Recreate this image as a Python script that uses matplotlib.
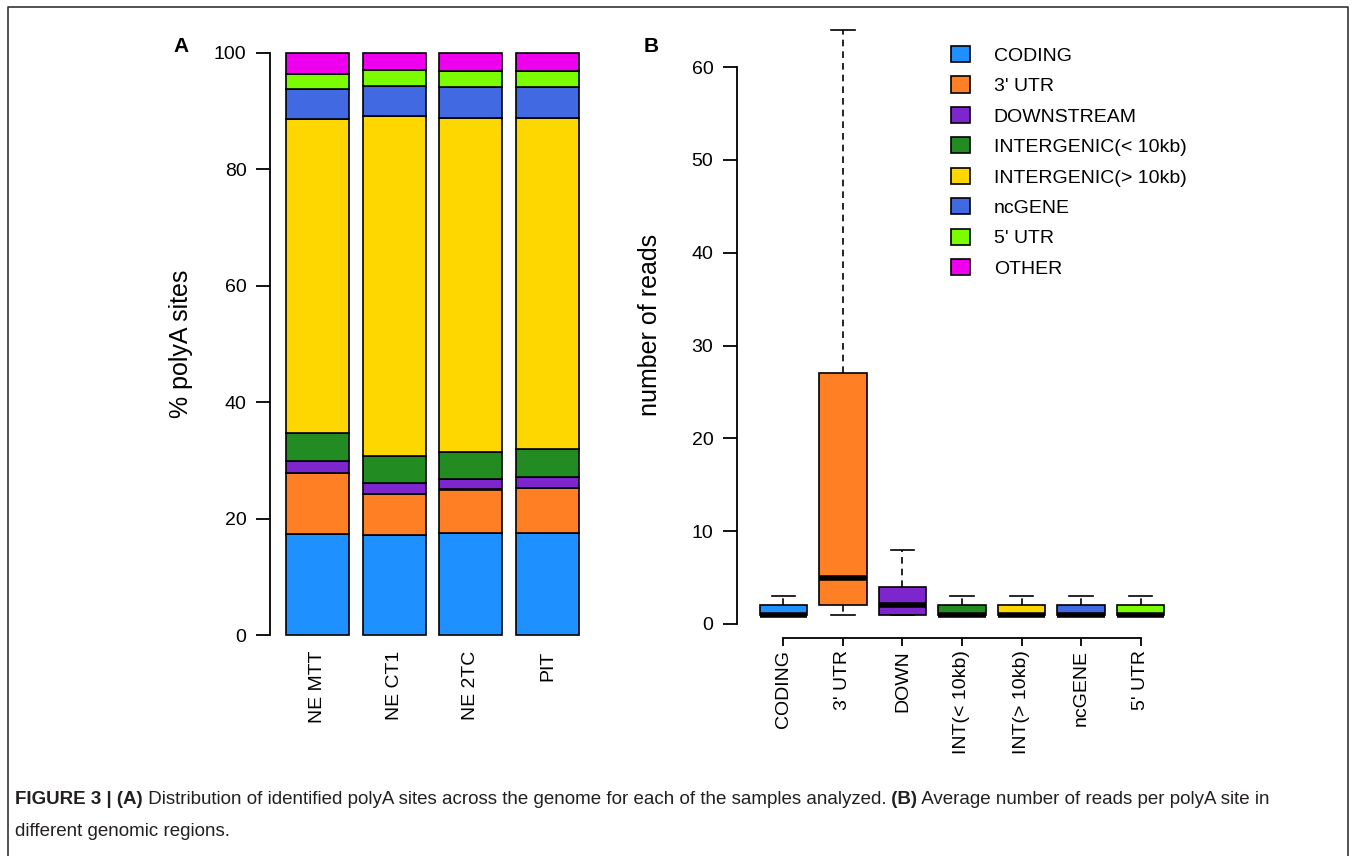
"""
Figure 3: (A) distribution of polyA sites per sample, (B) reads per polyA site.
"""

import matplotlib
matplotlib.use("Agg")
import matplotlib.pyplot as plt
from matplotlib.patches import Patch

plt.rcParams['font.family'] = ['Liberation Sans', 'DejaVu Sans']

# --- data -------------------------------------------------------------------
samples = ['NE MTT', 'NE CT1', 'NE 2TC', 'PIT']
regions = ['CODING', "3' UTR", 'DOWNSTREAM', 'INTERGENIC(< 10kb)',
           'INTERGENIC(> 10kb)', 'ncGENE', "5' UTR", 'OTHER']
region_colors = ['#1E90FF', '#FF7F24', '#7D26CD', '#228B22',
                 '#FFD700', '#4169E1', '#7CFC00', '#EE00EE']

# % of polyA sites in each region, one value per sample
pct_coding = [17.3, 17.1, 17.5, 17.5]
pct_utr3 = [10.5, 7.2, 7.5, 7.8]
pct_downstream = [2.1, 1.8, 1.8, 1.9]
pct_inter_lt = [4.8, 4.7, 4.7, 4.8]
pct_inter_gt = [53.9, 58.3, 57.4, 56.9]
pct_ncgene = [5.2, 5.2, 5.3, 5.3]
pct_utr5 = [2.6, 2.7, 2.7, 2.7]
pct_other = [3.6, 3.0, 3.1, 3.1]

# boxplot summary of reads per polyA site
box_labels = ['CODING', "3' UTR", 'DOWN', 'INT(< 10kb)', 'INT(> 10kb)', 'ncGENE', "5' UTR"]
box_whislo = [1, 1, 1, 1, 1, 1, 1]
box_q1 = [1, 2, 1, 1, 1, 1, 1]
box_med = [1, 5, 2, 1, 1, 1, 1]
box_q3 = [2, 27, 4, 2, 2, 2, 2]
box_whishi = [3, 64, 8, 3, 3, 3, 3]

# --- figure -----------------------------------------------------------------
W, H = 1354, 856
fig = plt.figure(figsize=(W / 100, H / 100), dpi=100)


def px_axes(left, right, top, bottom):
    """Axes rectangle from pixel edges."""
    return fig.add_axes([left / W, 1 - bottom / H, (right - left) / W, (bottom - top) / H])


TICK_FS = 14
LABEL_FS = 18

# ---- panel A: stacked bars ----
ax_a = px_axes(270, 595, 53, 635)
pct_all = [pct_coding, pct_utr3, pct_downstream, pct_inter_lt,
           pct_inter_gt, pct_ncgene, pct_utr5, pct_other]
x_a = list(range(len(samples)))
bottom = [0.0] * len(samples)
for vals, col in zip(pct_all, region_colors):
    ax_a.bar(x_a, vals, width=0.82, bottom=bottom, color=col,
             edgecolor='black', linewidth=1.2, clip_on=False)
    bottom = [b + v for b, v in zip(bottom, vals)]

ax_a.set_xlim(-0.62, 3.62)
ax_a.set_ylim(0, 100)
ax_a.set_yticks([0, 20, 40, 60, 80, 100])
ax_a.set_xticks(x_a)
ax_a.set_xticklabels(samples, rotation=90, fontsize=TICK_FS)
ax_a.tick_params(axis='x', length=0, pad=11)
ax_a.tick_params(axis='y', labelsize=TICK_FS, length=10, width=1.3, pad=7)
for s in ['top', 'right', 'bottom']:
    ax_a.spines[s].set_visible(False)
ax_a.spines['left'].set_linewidth(1.3)
ax_a.set_ylabel('% polyA sites', fontsize=LABEL_FS)
ax_a.yaxis.set_label_coords(-0.237, 0.5)

# ---- panel B: boxplots ----
ax_b = px_axes(737, 1187, 20.6, 624)
stats = []
for i in range(len(box_labels)):
    stats.append({'whislo': box_whislo[i], 'q1': box_q1[i], 'med': box_med[i],
                  'q3': box_q3[i], 'whishi': box_whishi[i], 'fliers': []})
positions = list(range(1, len(box_labels) + 1))
bp = ax_b.bxp(stats, positions=positions, widths=0.8, capwidths=0.4,
              patch_artist=True, showfliers=False,
              boxprops=dict(edgecolor='black', linewidth=1.2),
              whiskerprops=dict(color='black', linewidth=1.2, linestyle=(0, (4, 3))),
              capprops=dict(color='black', linewidth=1.2),
              medianprops=dict(color='black', linewidth=4, solid_capstyle='butt'))
for patch, col in zip(bp['boxes'], region_colors):
    patch.set_facecolor(col)
for art in bp['whiskers'] + bp['caps']:
    art.set_clip_on(False)

ax_b.set_xlim(0.22, 7.78)
ax_b.set_ylim(0, 65)
ax_b.set_yticks([0, 10, 20, 30, 40, 50, 60])
ax_b.spines['left'].set_bounds(0, 60)
ax_b.spines['bottom'].set_bounds(1, 7)
ax_b.spines['bottom'].set_position(('outward', 10))
for s in ['top', 'right']:
    ax_b.spines[s].set_visible(False)
for s in ['left', 'bottom']:
    ax_b.spines[s].set_linewidth(1.3)
ax_b.set_xticks(positions)
ax_b.set_xticklabels(box_labels, rotation=90, fontsize=TICK_FS)
ax_b.tick_params(axis='x', length=6, width=1.3, pad=3)
ax_b.tick_params(axis='y', labelsize=TICK_FS, length=10, width=1.3, pad=7)
ax_b.set_ylabel('number of reads', fontsize=LABEL_FS)
ax_b.yaxis.set_label_coords(-0.167, 0.496)

handles = [Patch(facecolor=c, edgecolor='black', linewidth=1.2) for c in region_colors]
ax_b.legend(handles, regions, loc='upper left', bbox_to_anchor=(951 / W, 1 - 46 / H),
            bbox_transform=fig.transFigure, frameon=False, fontsize=TICK_FS,
            handlelength=1.0, handleheight=0.9, handletextpad=1.2,
            labelspacing=0.6, borderpad=0, borderaxespad=0)

# panel letters
fig.text(181 / W, 1 - 47 / H, 'A', fontsize=15, fontweight='bold', ha='center', va='center')
fig.text(651 / W, 1 - 47 / H, 'B', fontsize=15, fontweight='bold', ha='center', va='center')

# --- caption ----------------------------------------------------------------
CAP_FS = 13.5
CAP_COLOR = '#231F20'
renderer = fig.canvas.get_renderer()


def caption_line(parts, x_px, y_px):
    # place each piece right after the previous one
    x = x_px
    for txt, weight in parts:
        t = fig.text(x / W, 1 - y_px / H, txt, fontsize=CAP_FS, fontweight=weight,
                     color=CAP_COLOR, ha='left', va='center')
        x = t.get_window_extent(renderer).x1


caption_line([('FIGURE 3 | (A)', 'bold'),
              (' Distribution of identified polyA sites across the genome for each of the samples analyzed.', 'normal'),
              (' (B)', 'bold'),
              (' Average number of reads per polyA site in', 'normal')], 15, 800)
caption_line([('different genomic regions.', 'normal')], 15, 831)

# frame around the figure (open at the bottom)
fig.add_artist(plt.Line2D([8 / W, 8 / W, 1348 / W, 1348 / W], [-0.01, 1 - 7 / H, 1 - 7 / H, -0.01],
                          color='#333333', linewidth=1.2, transform=fig.transFigure))

fig.savefig('out.png', dpi=100)
